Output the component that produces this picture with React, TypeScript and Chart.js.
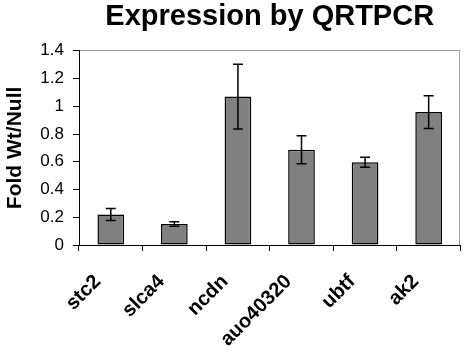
import { useEffect, useRef } from 'react';
import { Chart, registerables } from 'chart.js';

Chart.register(...registerables);

const categories = ['stc2', 'slca4', 'ncdn', 'auo40320', 'ubtf', 'ak2'];
const foldValues = [0.22, 0.152, 1.07, 0.686, 0.596, 0.958];
const errorValues = [0.044, 0.016, 0.233, 0.101, 0.036, 0.118];
const yMin = 0;
const yMax = 1.4;
const yStep = 0.2;

const FONT = "'Liberation Sans', Arial, Helvetica, sans-serif";

const errorBarPlugin = {
  id: 'errorBars',
  afterDatasetsDraw(chart: any) {
    const meta = chart.getDatasetMeta(0);
    const yScale = chart.scales.y;
    const ctx = chart.ctx;
    ctx.save();
    ctx.strokeStyle = '#000';
    ctx.lineWidth = 1.5;
    meta.data.forEach((bar: any, i: number) => {
      const x = bar.x;
      const yTop = yScale.getPixelForValue(foldValues[i] + errorValues[i]);
      const yBot = yScale.getPixelForValue(foldValues[i] - errorValues[i]);
      const cap = 5;
      ctx.beginPath();
      ctx.moveTo(x, yTop);
      ctx.lineTo(x, yBot);
      ctx.moveTo(x - cap, yTop);
      ctx.lineTo(x + cap, yTop);
      ctx.moveTo(x - cap, yBot);
      ctx.lineTo(x + cap, yBot);
      ctx.stroke();
    });
    ctx.restore();
  },
};

const frameBorderPlugin = {
  id: 'frameBorder',
  beforeDatasetsDraw(chart: any) {
    const { ctx, chartArea } = chart;
    ctx.save();
    ctx.strokeStyle = '#a0a0a0';
    ctx.lineWidth = 1;
    ctx.beginPath();
    ctx.moveTo(Math.round(chartArea.right) - 0.5, chartArea.top);
    ctx.lineTo(Math.round(chartArea.right) - 0.5, chartArea.bottom);
    ctx.stroke();
    ctx.restore();
  },
};

export default function App() {
  const canvasRef = useRef<HTMLCanvasElement | null>(null);

  useEffect(() => {
    document.body.style.margin = '0';
    const canvas = canvasRef.current;
    if (!canvas) return;
    const chart = new Chart(canvas, {
      type: 'bar',
      data: {
        labels: categories,
        datasets: [
          {
            data: foldValues,
            backgroundColor: '#808080',
            borderColor: '#000',
            borderWidth: 1.5,
            borderSkipped: false,
            categoryPercentage: 1,
            barPercentage: 0.42,
          },
        ],
      },
      options: {
        animation: false,
        responsive: true,
        maintainAspectRatio: false,
        layout: { padding: { right: 2, left: 0, top: 0, bottom: 0 } },
        plugins: {
          legend: { display: false },
          tooltip: { enabled: false },
          title: {
            display: true,
            text: 'Expression by QRTPCR',
            fullSize: false,
            color: '#000',
            font: { family: FONT, size: 29, weight: 'bold' },
            padding: { top: 0, bottom: 16 },
          },
        },
        scales: {
          x: {
            border: { color: '#000', width: 1 },
            grid: {
              offset: true,
              drawOnChartArea: false,
              tickColor: '#000',
              tickLength: 6,
            },
            ticks: {
              color: '#000',
              minRotation: 45,
              maxRotation: 45,
              autoSkip: false,
              padding: 19,
              labelOffset: -13,
              font: { family: FONT, size: 20, weight: 'bold' },
            },
            afterFit(scale: any) {
              scale.height = 115;
            },
          },
          y: {
            min: yMin,
            max: yMax,
            border: { color: '#000', width: 1 },
            grid: {
              color: (c: any) =>
                c.tick && Math.abs(c.tick.value - yMax) < 1e-9 ? '#a0a0a0' : 'rgba(0,0,0,0)',
              tickColor: '#000',
              tickLength: 6,
            },
            ticks: {
              stepSize: yStep,
              color: '#000',
              padding: 9,
              font: { family: FONT, size: 17 },
              callback: (v: any) => String(Math.round(Number(v) * 10) / 10),
            },
            title: {
              display: true,
              text: 'Fold Wt/Null',
              color: '#000',
              font: { family: FONT, size: 21, weight: 'bold' },
              padding: { top: 3, bottom: 0 },
            },
            afterFit(scale: any) {
              scale.width = 79;
            },
          },
        },
      },
      plugins: [frameBorderPlugin, errorBarPlugin],
    });
    return () => chart.destroy();
  }, []);

  return (
    <div style={{ position: 'fixed', left: 0, top: 0, width: 465, height: 360 }}>
      <canvas ref={canvasRef} />
    </div>
  );
}
